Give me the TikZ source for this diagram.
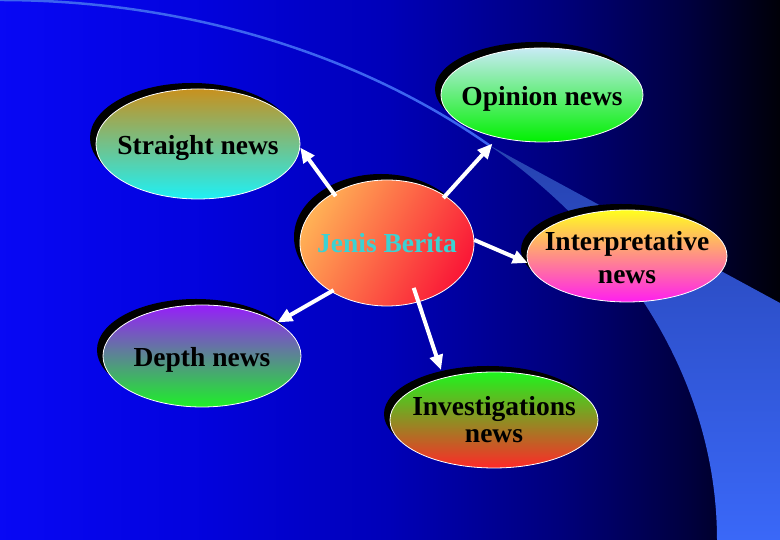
\documentclass[tikz,border=0pt]{standalone}
\usepackage{fontspec}
\setmainfont{Liberation Serif}
\usetikzlibrary{shapes.geometric,shadows,arrows.meta}

\definecolor{arcblue}{RGB}{60,100,240}
\definecolor{bandtop}{RGB}{38,66,176}
\definecolor{bandblue}{RGB}{58,104,248}
\definecolor{jeniscyan}{RGB}{60,210,210}
\pgfdeclarehorizontalshading{slidebg}{100bp}{rgb(0bp)=(0.03,0.03,0.96); rgb(25bp)=(0.03,0.03,0.96);
    rgb(37.5bp)=(0.01,0.01,0.87); rgb(50bp)=(0,0,0.72); rgb(61bp)=(0,0,0.48); rgb(69bp)=(0,0,0.25);
    rgb(75bp)=(0,0,0.03); rgb(100bp)=(0,0,0.03)}

\begin{document}
\begin{tikzpicture}[x=1pt, y=1pt,
    news/.style={ellipse, draw=white, line width=0.8pt, inner sep=0pt,
        drop shadow={shadow xshift=-6pt, shadow yshift=6pt, fill=black, opacity=1}},
    newstext/.style={font=\fontsize{27.5}{33}\selectfont\bfseries, text=black, align=center},
    newsarrow/.style={draw=white, line width=4pt, -{Triangle[length=15pt,width=13pt]}}]

    % Background
    \useasboundingbox (0,0) rectangle (780,540);
    \shade[shading=slidebg] (0,0) rectangle (780,540);

    % Arc and band on the right
    \draw[arcblue, line width=2.5pt] (0,540) arc[start angle=90, end angle=46.9, x radius=717, y radius=540];
    \shade[top color=bandtop, middle color=bandblue, bottom color=bandblue]
        (490,394.3) -- (780,237) -- (780,0) -- (717,0)
        arc[start angle=0, end angle=46.9, x radius=717, y radius=540] -- cycle;

    % Outer kinds of news
    \node[news, minimum width=204, minimum height=110,
        top color={rgb,255:red,200;green,145;blue,30}, middle color={rgb,255:red,150;green,190;blue,175},
        bottom color={rgb,255:red,30;green,240;blue,245},
        label={[newstext, yshift=-4pt]center:Straight news}] (straight) at (198,396) {};
    \node[news, minimum width=202, minimum height=94,
        top color={rgb,255:red,200;green,235;blue,245}, middle color={rgb,255:red,120;green,240;blue,160},
        bottom color={rgb,255:red,0;green,240;blue,0},
        label={[newstext, yshift=-4pt]center:Opinion news}] (opinion) at (542,445) {};
    \node[news, minimum width=200, minimum height=92,
        top color={rgb,255:red,255;green,255;blue,30}, middle color={rgb,255:red,255;green,180;blue,180},
        bottom color={rgb,255:red,255;green,30;blue,240},
        label={[newstext, yshift=-2pt]center:Interpretative\\news}] (interp) at (627,284) {};
    \node[news, minimum width=198, minimum height=102,
        top color={rgb,255:red,150;green,30;blue,250}, middle color={rgb,255:red,90;green,160;blue,170},
        bottom color={rgb,255:red,30;green,240;blue,40},
        label={[newstext, yshift=-4pt]center:Depth news}] (depth) at (202,184) {};
    \node[news, minimum width=208, minimum height=96,
        top color={rgb,255:red,30;green,245;blue,30}, middle color={rgb,255:red,200;green,170;blue,40},
        bottom color={rgb,255:red,255;green,40;blue,40},
        label={[newstext]center:Investigations\\[-6pt]news}] (invest) at (494,120) {};

    % Centre node
    \node[news, minimum width=174, minimum height=126,
        top color={rgb,255:red,255;green,175;blue,85}, bottom color={rgb,255:red,250;green,25;blue,55},
        shading angle=60,
        label={[newstext, text=jeniscyan]center:Jenis Berita}] (jenis) at (387,297) {};

    % Arrows
    \draw[newsarrow, shorten <=-4pt] (jenis.137.8) -- (straight.-2);
    \draw[newsarrow, shorten <=-3pt, shorten >=8pt] (jenis.39.1) -- (opinion.-136.7);
    \draw[newsarrow] (jenis.2) -- (interp.184);
    \draw[newsarrow, shorten <=-3pt] (jenis.221.1) -- (depth.24);
    \draw[newsarrow, shorten <=-15pt, shorten >=8pt] (jenis.-62.5) -- (invest.140);
\end{tikzpicture}
\end{document}
